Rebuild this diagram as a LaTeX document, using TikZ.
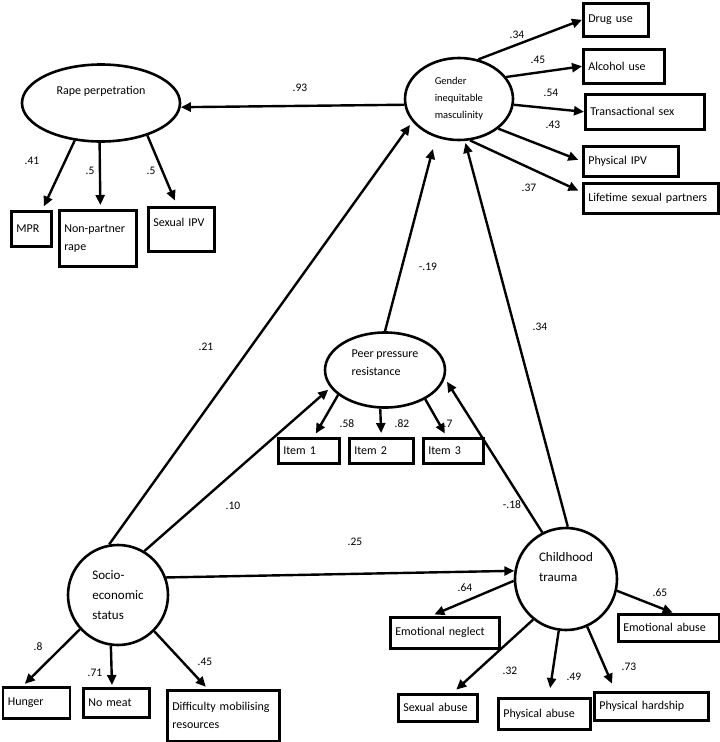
\documentclass[tikz,border=0pt]{standalone}
\usepackage{fontspec}
\setmainfont{Carlito}
\usepackage{tikz}
\usetikzlibrary{arrows.meta, shapes.geometric}
\tikzset{
  latent/.style={draw, ellipse, line width=2.6pt, inner sep=0pt, align=left},
  latentc/.style={draw, circle, line width=2.6pt, inner sep=0pt, align=left,
                  font=\fontsize{13}{20}\selectfont},
  indic/.style={draw, rectangle, line width=2.6pt, anchor=north west,
                inner xsep=5pt, inner ysep=3pt, align=left,
                font=\fontsize{12}{18}\selectfont},
  effect/.style={-{Triangle[length=10pt,width=9pt]}, line width=2.4pt},
  coef/.style={font=\fontsize{11.5}{13}\selectfont, inner sep=1pt},
}

\begin{document}
\begin{tikzpicture}[x=1pt, y=-1pt]
  \useasboundingbox (0,0) rectangle (720,742);

  % latent variables
  \node[latent, minimum width=158pt, minimum height=77pt,
        font=\fontsize{12}{18}\selectfont, text depth=25pt]
    (rape) at (101,103) {Rape perpetration};
  \node[latent, minimum width=108pt, minimum height=82pt,
        font=\fontsize{10.5}{17}\selectfont]
    (gim) at (459,99) {Gender\\inequitable\\masculinity};
  \node[latent, minimum width=120pt, minimum height=75pt,
        font=\fontsize{12}{18}\selectfont, text depth=15pt]
    (peer) at (385,370) {Peer pressure\\resistance};
  \node[latentc, minimum size=100pt]
    (ses) at (118,595) {Socio-\\economic\\status};
  \node[latentc, minimum size=102pt, text depth=25pt]
    (ct) at (566,579) {Childhood\\trauma};

  % rape perpetration indicators
  \node[indic, text width=30pt, minimum height=35pt] (mpr) at (10,210) {MPR};
  \node[indic, text width=67pt, minimum height=56pt] (nonpartner) at (58,209)
    {Non-partner\\rape};
  \node[indic, text width=56pt, minimum height=44pt, text depth=14pt]
    (sexipv) at (147,206) {Sexual IPV};

  % masculinity indicators
  \node[indic, text width=55pt, minimum height=33pt] (drug) at (582,2) {Drug use};
  \node[indic, text width=71pt, minimum height=34pt] (alcohol) at (582,48) {Alcohol use};
  \node[indic, text width=109pt, minimum height=35pt] (trans) at (584,93)
    {Transactional sex};
  \node[indic, text width=85pt, minimum height=30pt] (physipv) at (582,145)
    {Physical IPV};
  \node[indic, text width=125pt, minimum height=30pt] (lifetime) at (582,182)
    {Lifetime sexual partners};

  % peer pressure items
  \node[indic, text width=51pt, minimum height=25pt] (item1) at (277,437) {Item 1};
  \node[indic, text width=54pt, minimum height=25pt] (item2) at (348,437) {Item 2};
  \node[indic, text width=50pt, minimum height=25pt] (item3) at (422,437) {Item 3};

  % socio-economic indicators
  \node[indic, text width=57pt, minimum height=31pt] (hunger) at (1.5,686) {Hunger};
  \node[indic, text width=56pt, minimum height=29pt] (nomeat) at (82,687) {No meat};
  \node[indic, text width=102pt, minimum height=51pt] (difficulty) at (166,689)
    {Difficulty mobilising\\resources};

  % childhood trauma indicators
  \node[indic, text width=99pt, minimum height=31pt] (emoneg) at (389,616)
    {Emotional neglect};
  \node[indic, text width=91pt, minimum height=27pt] (emoabuse) at (617,613)
    {Emotional abuse};
  \node[indic, text width=69pt, minimum height=27pt] (sexabuse) at (397,693)
    {Sexual abuse};
  \node[indic, text width=82pt, minimum height=31pt] (physabuse) at (497,697)
    {Physical abuse};
  \node[indic, text width=104pt, minimum height=28pt] (physhard) at (593,691)
    {Physical hardship};

  % structural paths
  \draw[effect] (gim.186) -- (rape.-3);
  \draw[effect, shorten >=12pt] (peer.north) -- (gim.-121);
  \draw[effect, shorten >=4pt] (ses.100) -- (gim.-154);
  \draw[effect, shorten >=3pt] (ses.59) -- (peer.-162);
  \draw[effect] (ses.20) -- (ct.171);
  \draw[effect, shorten >=2pt] (ct.88) -- (gim.-82);
  \draw[effect, shorten >=4pt] (ct.117) -- (peer.-8);

  % measurement paths
  \draw[effect, shorten >=4pt] (rape.-125) -- (mpr.60);
  \draw[effect, shorten >=4pt] (rape.-92) -- (nonpartner.85);
  \draw[effect, shorten >=6pt] (rape.-35) -- (sexipv.100);
  \draw[effect] (gim.64) -- (drug.west);
  \draw[effect] (gim.25) -- (alcohol.west);
  \draw[effect] (gim.-6) -- (trans.west);
  \draw[effect, shorten >=4pt] (gim.-37) -- (physipv.west);
  \draw[effect, shorten >=4pt] (gim.-75) -- (lifetime.175);
  \draw[effect, shorten >=4pt] (peer.-152) -- (item1.70);
  \draw[effect, shorten >=4pt] (peer.-97) -- (item2.north);
  \draw[effect, shorten >=4pt] (peer.-36) -- (item3.115);
  \draw[effect, shorten >=3pt] (ses.-138) -- (hunger.129);
  \draw[effect, shorten >=2pt] (ses.-98) -- (nomeat.105);
  \draw[effect, shorten >=3pt] (ses.-45) -- (difficulty.120);
  \draw[effect, shorten >=4pt] (ct.-178) -- (emoneg.130);
  \draw[effect, shorten >=1pt] (ct.-13) -- (emoabuse.72);
  \draw[effect, shorten >=5pt] (ct.-129) -- (sexabuse.45);
  \draw[effect, shorten >=9pt] (ct.-98) -- (physabuse.75);
  \draw[effect, shorten >=8pt] (ct.-66) -- (physhard.157);

  % coefficients
  \node[coef] (w93) at (300,88) {.93};
  \node[coef] (w41) at (32,161) {.41};
  \node[coef] (w5a) at (90,171) {.5};
  \node[coef] (w5b) at (151,171) {.5};
  \node[coef] (w34a) at (517,35) {.34};
  \node[coef] (w45a) at (538,60) {.45};
  \node[coef] (w54) at (551,93) {.54};
  \node[coef] (w43) at (553,125) {.43};
  \node[coef] (w37) at (529,188) {.37};
  \node[coef] (w19) at (428,267) {-.19};
  \node[coef] (w34b) at (540,327) {.34};
  \node[coef] (w21) at (206,347) {.21};
  \node[coef] (w58) at (347,424) {.58};
  \node[coef] (w82) at (402,424) {.82};
  \node[coef] (w7) at (448,424) {.7};
  \node[coef] (w10) at (233,506) {.10};
  \node[coef] (w18) at (512,505) {-.18};
  \node[coef] (w25) at (355,542) {.25};
  \node[coef] (w8) at (38,647) {.8};
  \node[coef] (w71) at (95,673) {.71};
  \node[coef] (w45b) at (205,662) {.45};
  \node[coef] (w64) at (465,588) {.64};
  \node[coef] (w65) at (660,593) {.65};
  \node[coef] (w32) at (510,671) {.32};
  \node[coef] (w49) at (574,677) {.49};
  \node[coef] (w73) at (629,667) {.73};
\end{tikzpicture}
\end{document}
